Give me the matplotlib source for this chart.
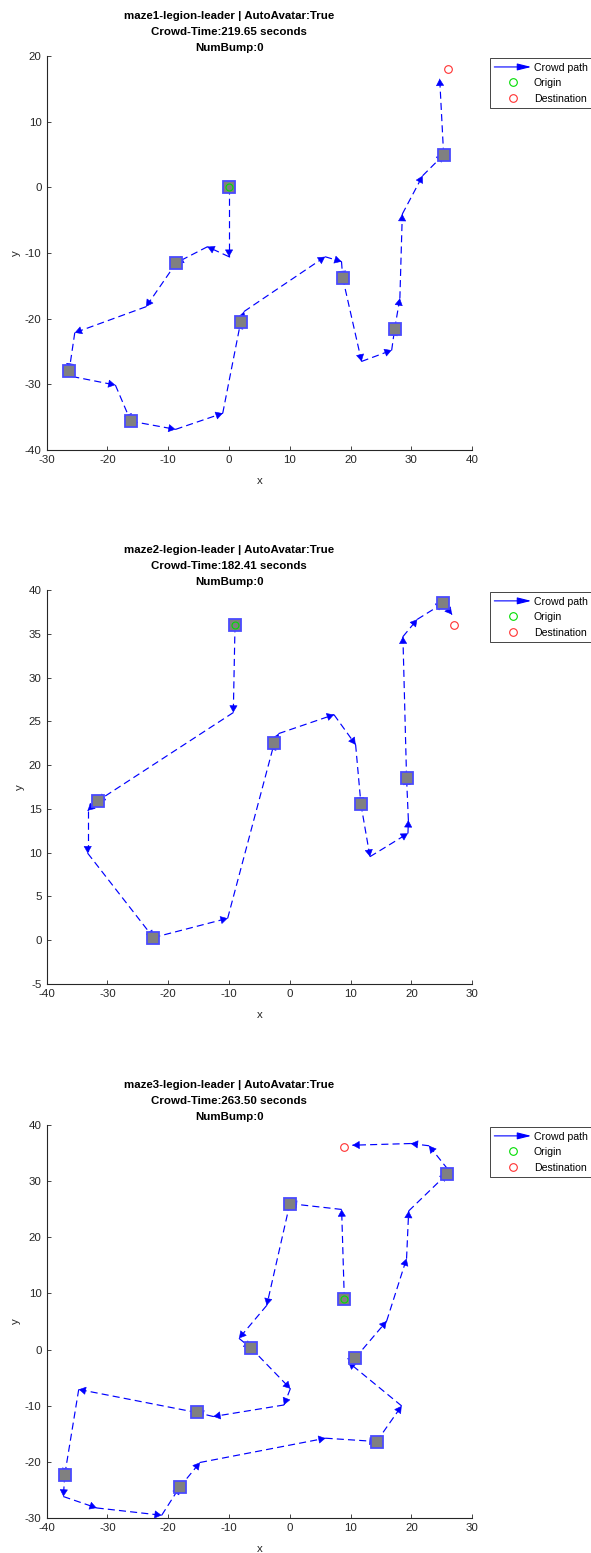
import matplotlib
matplotlib.use("Agg")
import matplotlib.pyplot as plt
from matplotlib.lines import Line2D
from matplotlib.patches import FancyArrowPatch
from matplotlib.legend_handler import HandlerBase

plt.rcParams['font.family'] = ['Liberation Sans', 'DejaVu Sans']
plt.rcParams['axes.unicode_minus'] = False

# maze1
maze1_title = "maze1-legion-leader | AutoAvatar:True\nCrowd-Time:219.65 seconds\nNumBump:0"
maze1_path_x = [0, 0, -3.56, -8.66, -13.65, -25.38, -26.3, -25.8, -18.7, -16.17, -8.8, -1.04, 1.92, 2.47,
                15.8, 18.5, 18.7, 21.8, 26.75, 27.25, 28.1, 28.5, 31.85, 35.3, 34.65]
maze1_path_y = [0, -10.56, -9.04, -11.47, -18.17, -22.13, -27.9, -28.8, -30.1, -35.6, -36.85, -34.4, -20.46, -18.9,
                -10.56, -11.3, -13.8, -26.5, -24.8, -21.5, -16.9, -4.06, 1.78, 4.97, 16.55]
maze1_wp_x = [0, -8.66, -26.3, -16.17, 1.92, 18.7, 27.25, 35.3]
maze1_wp_y = [0, -11.47, -27.9, -35.6, -20.46, -13.8, -21.5, 4.97]
maze1_origin = (0, 0)
maze1_dest = (36.0, 17.97)
maze1_xlim = (-30, 40)
maze1_ylim = (-40, 20)
maze1_yticks = [-40, -30, -20, -10, 0, 10, 20]

# maze2
maze2_title = "maze2-legion-leader | AutoAvatar:True\nCrowd-Time:182.41 seconds\nNumBump:0"
maze2_path_x = [-9.02, -9.3, -31.55, -33.25, -33.25, -22.45, -10.23, -2.55, -1.84, 7.26, 10.82, 11.7, 13.18,
                19.43, 19.5, 19.2, 18.6, 20.97, 25.2, 26.67]
maze2_path_y = [35.97, 26.0, 15.93, 14.8, 9.93, 0.3, 2.5, 22.55, 23.6, 25.76, 22.33, 15.5, 9.54,
                12.2, 13.7, 18.55, 34.67, 36.65, 38.48, 37.2]
maze2_wp_x = [-9.02, -31.55, -22.45, -2.55, 11.7, 19.2, 25.2]
maze2_wp_y = [35.97, 15.93, 0.3, 22.55, 15.5, 18.55, 38.48]
maze2_origin = (-9.02, 35.97)
maze2_dest = (27.0, 35.97)
maze2_xlim = (-40, 30)
maze2_ylim = (-5, 40)
maze2_yticks = [-5, 0, 5, 10, 15, 20, 25, 30, 35, 40]

# maze3
maze3_title = "maze3-legion-leader | AutoAvatar:True\nCrowd-Time:263.50 seconds\nNumBump:0"
maze3_path_x = [8.96, 8.52, 0.0, -3.8, -8.36, -6.4, 0.08, -0.96, -12.58, -15.33, -34.73, -37.04, -37.25,
                -31.78, -21.08, -18.13, -14.78, 5.88, 14.28, 18.39, 9.63, 10.77, 15.92, 19.2, 19.55,
                25.85, 26.0, 22.9, 19.9, 10.3]
maze3_path_y = [9.0, 24.96, 26.0, 7.87, 2.0, 0.29, -6.96, -9.86, -11.92, -11.2, -7.09, -22.38, -26.17,
                -28.2, -29.5, -24.5, -20.1, -15.78, -16.37, -10.03, -2.25, -1.48, 5.07, 16.21, 24.69,
                31.28, 32.1, 36.3, 36.7, 36.4]
maze3_wp_x = [8.96, 0.0, -6.4, -15.33, -37.04, -18.13, 14.28, 10.77, 25.85]
maze3_wp_y = [9.0, 26.0, 0.29, -11.2, -22.38, -24.5, -16.37, -1.48, 31.28]
maze3_origin = (8.96, 9.0)
maze3_dest = (8.96, 36.1)
maze3_xlim = (-40, 30)
maze3_ylim = (-30, 40)
maze3_yticks = [-30, -20, -10, 0, 10, 20, 30, 40]


class ArrowHandler(HandlerBase):
    def create_artists(self, legend, orig_handle, xdescent, ydescent, width, height, fontsize, trans):
        y = height / 2 - ydescent
        a = FancyArrowPatch((-xdescent, y), (width - xdescent, y), arrowstyle='-|>,head_length=0.6,head_width=0.15',
                            mutation_scale=14, color='blue', lw=0.8, shrinkA=0, shrinkB=0, transform=trans)
        return [a]


def draw_maze(ax, title, px, py, wx, wy, origin, dest, xlim, ylim, yticks):
    # segments dashed + arrowhead at each end
    for i in range(len(px) - 1):
        x0, y0, x1, y1 = px[i], py[i], px[i + 1], py[i + 1]
        ax.plot([x0, x1], [y0, y1], color='blue', lw=0.85, linestyle=(0, (6, 3.5)), zorder=2)
        ax.annotate('', xy=(x1, y1), xytext=(x1 - (x1 - x0) * 0.001, y1 - (y1 - y0) * 0.001),
                    arrowprops=dict(arrowstyle='-|>,head_length=0.7,head_width=0.4', color='blue',
                                    lw=0.4, shrinkA=0, shrinkB=0, mutation_scale=6.5), zorder=3)
    ax.plot(wx, wy, linestyle='none', marker='s', markersize=8.5, markerfacecolor='#808080',
            markeredgecolor='#4a4aff', markeredgewidth=1.3, zorder=4)
    ax.plot([origin[0]], [origin[1]], linestyle='none', marker='o', markersize=5, markerfacecolor='none',
            markeredgecolor='#00dd00', markeredgewidth=0.8, zorder=5)
    ax.plot([dest[0]], [dest[1]], linestyle='none', marker='o', markersize=5.5, markerfacecolor='none',
            markeredgecolor='#ff3030', markeredgewidth=0.8, zorder=5)

    ax.set_xlim(xlim)
    ax.set_ylim(ylim)
    ax.set_xticks(range(xlim[0], xlim[1] + 1, 10))
    ax.set_yticks(yticks)
    ax.text(0.4287, 1.007, title, transform=ax.transAxes, ha='center', va='bottom', fontsize=8.25,
            fontweight='bold', linespacing=1.78, color='black')
    ax.set_xlabel('x', fontsize=8.25, color='#262626', labelpad=8)
    ax.set_ylabel('y', fontsize=8.25, color='#262626', labelpad=3)
    for s in ['top', 'right']:
        ax.spines[s].set_visible(False)
    for s in ['left', 'bottom']:
        ax.spines[s].set_color('#262626')
        ax.spines[s].set_linewidth(0.8)
    ax.tick_params(direction='in', length=3, width=0.6, colors='#262626', labelsize=8.25, pad=3.6)

    handles = [FancyArrowPatch((0, 0), (1, 0)),
               Line2D([], [], linestyle='none', marker='o', markersize=5.5, markerfacecolor='none',
                      markeredgecolor='#00dd00', markeredgewidth=0.8),
               Line2D([], [], linestyle='none', marker='o', markersize=5.5, markerfacecolor='none',
                      markeredgecolor='#ff3030', markeredgewidth=0.8)]
    leg = ax.legend(handles, ['Crowd path', 'Origin', 'Destination'], handler_map={FancyArrowPatch: ArrowHandler()},
                    loc='upper left', bbox_to_anchor=(1.042, 0.994), borderaxespad=0, fontsize=7.6,
                    handlelength=3.5, handletextpad=0.25, labelspacing=0.52, borderpad=0.4,
                    fancybox=False, framealpha=1, numpoints=1)
    leg.get_frame().set_edgecolor('#262626')
    leg.get_frame().set_linewidth(0.6)


fig = plt.figure(figsize=(5.91, 15.53), dpi=100)
ax1 = fig.add_axes([0.079, 0.7102, 0.72, 0.2537])
ax2 = fig.add_axes([0.079, 0.3664, 0.72, 0.2537])
ax3 = fig.add_axes([0.079, 0.0225, 0.72, 0.2531])

draw_maze(ax1, maze1_title, maze1_path_x, maze1_path_y, maze1_wp_x, maze1_wp_y, maze1_origin, maze1_dest,
          maze1_xlim, maze1_ylim, maze1_yticks)
draw_maze(ax2, maze2_title, maze2_path_x, maze2_path_y, maze2_wp_x, maze2_wp_y, maze2_origin, maze2_dest,
          maze2_xlim, maze2_ylim, maze2_yticks)
draw_maze(ax3, maze3_title, maze3_path_x, maze3_path_y, maze3_wp_x, maze3_wp_y, maze3_origin, maze3_dest,
          maze3_xlim, maze3_ylim, maze3_yticks)

fig.savefig("out.png", dpi=100)
